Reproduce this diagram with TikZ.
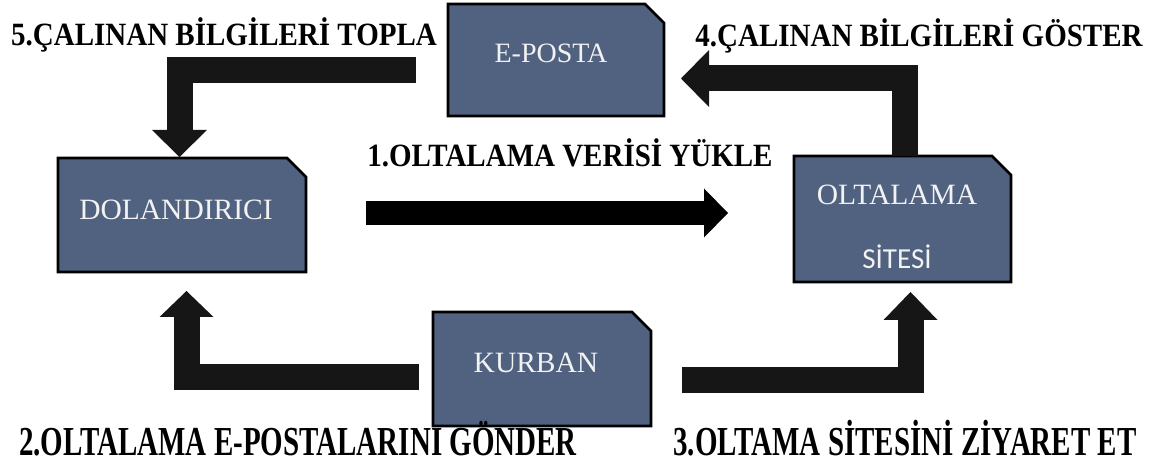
\documentclass[tikz,border=0pt]{standalone}
\usepackage{fontspec}
\usepackage{graphicx}
\setmainfont{Liberation Serif}
\newfontfamily\sitefont{Carlito}
\usetikzlibrary{arrows.meta,backgrounds}
\definecolor{boxfill}{RGB}{80,98,128}
\definecolor{boxtext}{RGB}{242,242,242}
\definecolor{arrowc}{RGB}{22,22,22}
\tikzset{
  boxarea/.style={inner sep=0pt, outer sep=0pt, rectangle},
  boxline/.style={fill=boxfill, draw=black, line width=2.6pt, line join=miter},
  boxtxt/.style={text=boxtext, inner sep=0pt, font=\fontsize{29.5}{31}\selectfont},
  lbl/.style={inner sep=0pt, anchor=base, font=\bfseries\fontsize{29}{30}\selectfont},
  blockarrow/.style={draw=arrowc, line width=26pt, line join=miter}
}
\newcommand{\tallA}[1]{\scalebox{1}[1.12]{#1}}
\newcommand{\tallB}[1]{\scalebox{1}[1.42]{#1}}
\begin{document}
\begin{tikzpicture}[x=1pt,y=1pt]
\useasboundingbox (0,0) rectangle (1153,466);
% boxes
\node[boxarea, minimum width=216pt, minimum height=112pt] (epo) at (556,406) {};
\node[boxarea, minimum width=248pt, minimum height=114pt] (dol) at (182,251) {};
\node[boxarea, minimum width=217pt, minimum height=126pt] (olt) at (902.5,247) {};
\node[boxarea, minimum width=218pt, minimum height=114pt] (kur) at (542,97) {};
\begin{scope}[on background layer]
\foreach \n in {epo,dol,olt,kur}
  \draw[boxline] (\n.south west) -- (\n.north west) -- ([xshift=-19pt]\n.north east)
     -- ([yshift=-19pt]\n.north east) -- (\n.south east) -- cycle;
\end{scope}
% box texts
\node[boxtxt, font=\fontsize{28}{30}\selectfont] (epoT) at (551,413) {E-POSTA};
\node[boxtxt] (dolT) at (176,256) {DOLANDIRICI};
\node[boxtxt] (oltT) at (897,271) {OLTALAMA};
\node[boxtxt, font=\sitefont\fontsize{29}{30}\selectfont] (oltT2) at (897,209) {SİTESİ};
\node[boxtxt] (kurT) at (536,103) {KURBAN};
% arrows
\draw[blockarrow, draw=black, line width=24pt, -{Triangle[length=24pt,width=49pt,line width=0pt]}]
  ([shift={(60,2)}]dol.east) -- ([shift={(-66,6)}]olt.west);
\draw[blockarrow, -{Triangle[length=26pt,width=54pt,line width=0pt]}]
  ([shift={(-14,-7.5)}]kur.west) -| ([shift={(4.5,-19)}]dol.south);
\draw[blockarrow, -{Triangle[length=28pt,width=54pt,line width=0pt]}]
  ([shift={(31,-11)}]kur.east) -| ([shift={(8,-10)}]olt.south);
\draw[blockarrow, -{Triangle[length=28pt,width=57pt,line width=0pt]}]
  ([shift={(2.5,0)}]olt.north) |- ([shift={(17,-18.5)}]epo.east);
\draw[blockarrow, -{Triangle[length=27pt,width=55pt,line width=0pt]}]
  ([shift={(-32,-10)}]epo.west) -| ([shift={(-2.5,1)}]dol.north);
% labels
\node[lbl] (l5) at (224,420) {\tallA{5.ÇALINAN BİLGİLERİ TOPLA}};
\node[lbl] (l4) at (919,419) {\tallA{4.ÇALINAN BİLGİLERİ GÖSTER}};
\node[lbl] (l1) at (570,299) {\tallA{1.OLTALAMA VERİSİ YÜKLE}};
\node[lbl] (l2) at (298,11) {\tallB{2.OLTALAMA E-POSTALARINI GÖNDER}};
\node[lbl] (l3) at (905,11) {\tallB{3.OLTAMA SİTESİNİ ZİYARET ET}};
\end{tikzpicture}
\end{document}
